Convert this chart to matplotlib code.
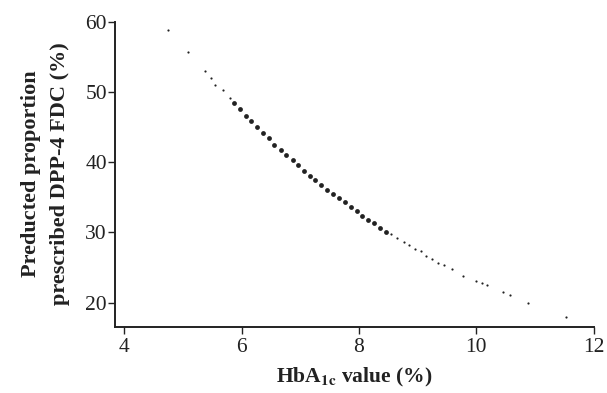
import numpy as np
import matplotlib
matplotlib.use("Agg")
import matplotlib.pyplot as plt

plt.rcParams['font.family'] = ['Liberation Serif', 'DejaVu Serif']
plt.rcParams['mathtext.fontset'] = 'stix'

# HbA1c value (%) and predicted proportion prescribed DPP-4 FDC (%)
hba1c = [4.74, 5.09, 5.37, 5.48, 5.55, 5.68, 5.80, 5.87, 5.97, 6.07, 6.17, 6.27,
         6.37, 6.47, 6.56, 6.67, 6.76, 6.87, 6.96, 7.06, 7.16, 7.26, 7.36, 7.46,
         7.56, 7.66, 7.76, 7.86, 7.97, 8.06, 8.16, 8.26, 8.36, 8.46, 8.55, 8.65,
         8.77, 8.86, 8.95, 9.05, 9.15, 9.25, 9.34, 9.45, 9.58, 9.78, 9.99, 10.09,
         10.18, 10.45, 10.58, 10.88, 11.53]
proportion = [58.8, 55.7, 53.0, 52.0, 51.0, 50.3, 49.2, 48.4, 47.5, 46.6, 45.8, 45.0,
              44.2, 43.4, 42.5, 41.8, 41.0, 40.3, 39.6, 38.8, 38.1, 37.5, 36.8, 36.1,
              35.5, 34.9, 34.3, 33.6, 33.0, 32.4, 31.8, 31.3, 30.7, 30.1, 29.8, 29.2,
              28.7, 28.2, 27.6, 27.4, 26.7, 26.2, 25.7, 25.3, 24.8, 23.8, 23.1, 22.8,
              22.5, 21.5, 21.1, 19.9, 17.9]
x_ticks = [4, 6, 8, 10, 12]
y_ticks = [20, 30, 40, 50, 60]

x = np.array(hba1c)
y = np.array(proportion)
dense = (x > 5.85) & (x < 8.5)

fig = plt.figure(figsize=(6.07, 3.93), dpi=100)
ax = fig.add_axes([0.190, 0.169, 0.788, 0.776])

ax.scatter(x[dense], y[dense], s=12, color='#222222', linewidths=0)
ax.scatter(x[~dense], y[~dense], s=2.5, color='#222222', linewidths=0)

ax.set_xlim(3.85, 12)
ax.set_ylim(16.6, 60)
ax.set_xticks(x_ticks)
ax.set_yticks(y_ticks)
ax.spines['top'].set_visible(False)
ax.spines['right'].set_visible(False)
for s in ['left', 'bottom']:
    ax.spines[s].set_linewidth(1.4)
    ax.spines[s].set_color('#222222')
ax.tick_params(length=5, width=1, color='#222222', labelsize=15.5, labelcolor='#222222')
ax.tick_params(axis='y', pad=1)
ax.tick_params(axis='x', pad=3)

ax.set_xlabel(r'HbA$_{\mathbf{1c}}$ value (%)', fontsize=15.5, fontweight='bold',
              color='#222222', labelpad=7)
ax.set_ylabel('Preducted proportion\nprescribed DPP-4 FDC (%)', fontsize=16,
              fontweight='bold', color='#222222', labelpad=11, linespacing=1.6)

fig.savefig('out.png', dpi=100)
